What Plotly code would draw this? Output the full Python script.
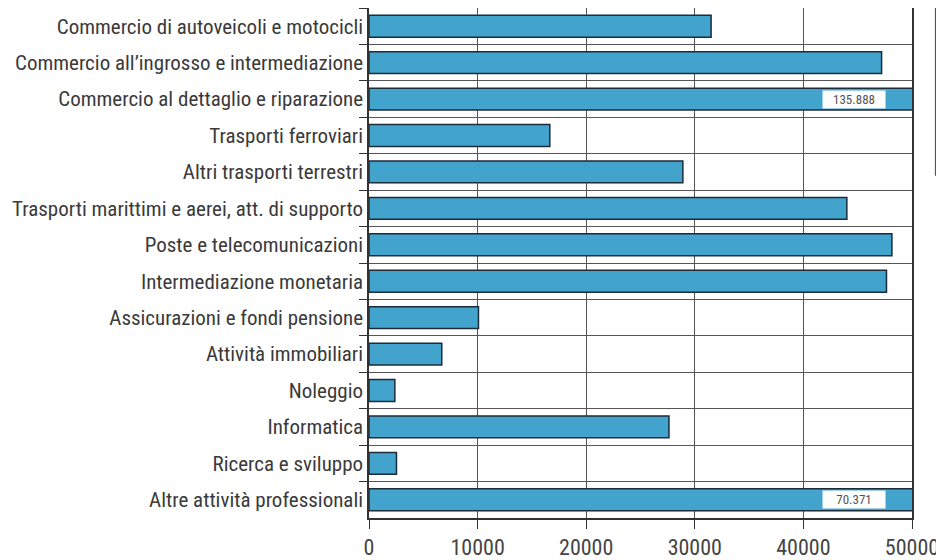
import plotly.graph_objects as go

categories = [
    "Commercio di autoveicoli e motocicli",
    "Commercio all’ingrosso e intermediazione",
    "Commercio al dettaglio e riparazione",
    "Trasporti ferroviari",
    "Altri trasporti terrestri",
    "Trasporti marittimi e aerei, att. di supporto",
    "Poste e telecomunicazioni",
    "Intermediazione monetaria",
    "Assicurazioni e fondi pensione",
    "Attività immobiliari",
    "Noleggio",
    "Informatica",
    "Ricerca e sviluppo",
    "Altre attività professionali",
]
values = [31500, 47200, 135888, 16650, 28900, 44000, 48150, 47650,
          10080, 6700, 2380, 27620, 2530, 70371]
x_ticks = [0, 10000, 20000, 30000, 40000, 50000]
x_max = 50000
overflow_labels = {"Commercio al dettaglio e riparazione": "135.888",
                   "Altre attività professionali": "70.371"}

FONT = "Liberation Sans Narrow, Roboto Condensed, Arial Narrow, Roboto, sans-serif"

fig = go.Figure()
fig.add_trace(go.Bar(
    x=values, y=categories, orientation="h",
    marker=dict(color="#42a3cc", line=dict(color="#1c2b38", width=1.5)),
    width=0.6, cliponaxis=True, hoverinfo="x+y",
))

for cat, txt in overflow_labels.items():
    fig.add_annotation(x=44660, y=cat, text=txt, showarrow=False,
                       bgcolor="white", font=dict(family=FONT, size=13, color="#555"),
                       borderpad=1, width=60)

# partially visible legend box on the right
fig.add_shape(type="rect", xref="paper", yref="paper",
              x0=1.044, x1=1.2, y0=0.673, y1=1.01,
              line=dict(color="#555", width=2), fillcolor="#f6f6f6")

fig.update_layout(
    width=936, height=552,
    margin=dict(l=361, r=32, t=0, b=42),
    paper_bgcolor="white", plot_bgcolor="white",
    showlegend=False,
    font=dict(family=FONT, color="#3a3a3a"),
)
fig.update_xaxes(range=[0, x_max], tickvals=x_ticks, ticktext=[str(v) for v in x_ticks],
                 showgrid=True, gridcolor="#555", gridwidth=1,
                 showline=True, linecolor="#333", linewidth=1.5, mirror=True,
                 ticks="outside", ticklen=9, tickcolor="#333",
                 tickfont=dict(size=22, color="#444"), zeroline=False, automargin=False)
fig.update_yaxes(type="category", autorange="reversed", tickson="boundaries",
                 showgrid=True, gridcolor="#555", gridwidth=1,
                 showline=True, linecolor="#333", linewidth=1.5, mirror=True,
                 ticks="outside", ticklen=8, tickcolor="#333",
                 tickfont=dict(size=21, color="#3a3a3a"), automargin=False)

fig.write_html("out.html")
